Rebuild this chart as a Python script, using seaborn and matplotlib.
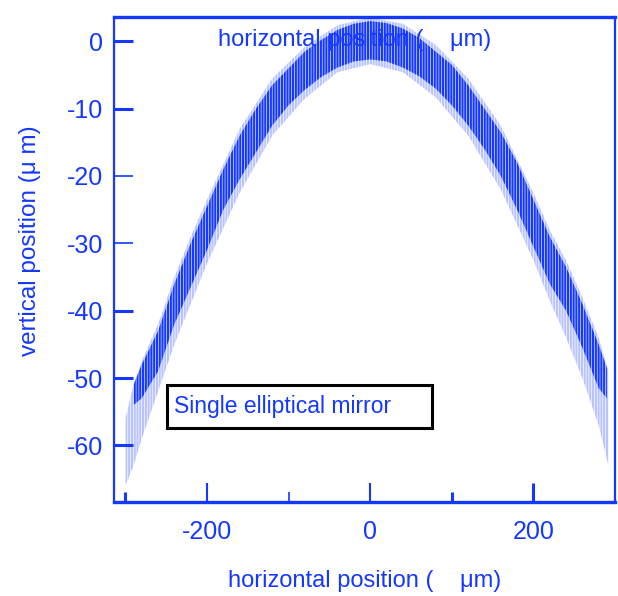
import numpy as np
import pandas as pd
import matplotlib
matplotlib.use("Agg")
import matplotlib.pyplot as plt
from matplotlib.patches import Rectangle
import seaborn as sns

# ---- data (micrometres) ----
band_x = [-290, -280, -260, -240, -220, -200, -180, -160, -140, -120, -100, -80, -60, -40, -20,
          0, 20, 40, 60, 80, 100, 120, 140, 160, 180, 200, 220, 240, 260, 280, 290]
band_top = [-51, -48, -43, -36, -30, -24.5, -19, -14, -10, -6.5, -4, -1.5, 0.2, 1.7, 2.6,
            3.0, 2.7, 1.9, 0.5, -1.5, -3.5, -6.5, -10, -13.5, -18, -23.5, -29, -33.5, -39, -45, -48.5]
band_bottom = [-54, -53, -49, -42, -36.5, -31, -25, -20.5, -16.5, -12.5, -9.5, -7.2, -5.3, -3.9, -3.0,
               -2.7, -3.0, -3.9, -5.2, -7, -9.5, -12.5, -16, -20, -25, -30.5, -36, -40, -45.5, -51.5, -53]

fringe_x = [-300, -290, -280, -260, -240, -220, -200, -160, -120, -80, -40, 0,
            40, 80, 120, 160, 200, 220, 240, 260, 280, 292]
fringe_top = [-56, -51, -47.5, -42, -35, -29, -23.5, -13, -5.5, -0.8, 2.4, 3.5,
              2.6, -0.5, -5.5, -12.5, -22.5, -28, -32.5, -38, -44, -49]
fringe_bottom = [-66, -63, -59, -52, -45, -39, -33, -22.5, -14, -8.5, -4.6, -3.4,
                 -4.6, -8.3, -14, -22, -32.5, -38.5, -44, -50, -57, -63]

xticks_major = [-200, 0, 200]
xticks_minor = [-300, -100, 100, 300]
yticks = [0, -10, -20, -30, -40, -50, -60]

label_text = "Single elliptical mirror"
xlabel_text = "horizontal position (    \u03bcm)"
ylabel_text = "vertical position (\u03bc m)"

BLUE = "#1438ff"

sns.set_style("white")
plt.rcParams["font.family"] = ["Liberation Sans", "DejaVu Sans"]
plt.rcParams["hatch.linewidth"] = 1.5
plt.rcParams["hatch.color"] = BLUE

band = pd.DataFrame({"x": band_x, "top": band_top, "bottom": band_bottom})
fringe = pd.DataFrame({"x": fringe_x, "top": fringe_top, "bottom": fringe_bottom})

fig = plt.figure(figsize=(6.18, 5.96), dpi=100)
ax = fig.add_axes([114 / 618, 1 - 502 / 596, 501 / 618, 485 / 596])

# text inside the plot area (under the data)
ax.text(0.481, 0.953, xlabel_text, transform=ax.transAxes, ha="center", va="center",
        fontsize=17, color=BLUE, zorder=1)

ax.fill_between(fringe["x"], fringe["bottom"], fringe["top"], facecolor="none",
                edgecolor=BLUE, linewidth=0, hatch="||||||", alpha=0.3, zorder=2)
ax.fill_between(band["x"], band["bottom"], band["top"], facecolor="none",
                edgecolor=BLUE, linewidth=0, hatch="||||||", zorder=3)

ax.set_xlim(-314, 299)
ax.set_ylim(-68.4, 3.6)

ax.set_xticks(xticks_major)
ax.set_xticks(xticks_minor, minor=True)
ax.set_yticks(yticks)
ax.set_xticklabels([str(v) for v in xticks_major])
ax.set_yticklabels([str(v) for v in yticks])

ax.tick_params(axis="x", which="major", direction="in", length=14, width=1.5, bottom=True,
               top=False, color=BLUE, labelcolor=BLUE, labelsize=18, pad=13)
ax.tick_params(axis="x", which="minor", direction="in", length=7, width=1.5, bottom=True,
               top=False, color=BLUE)
ax.tick_params(axis="y", which="major", direction="in", length=14, width=2.2, left=True,
               right=False, color=BLUE, labelcolor=BLUE, labelsize=18, pad=8)

for tick, w in zip(ax.xaxis.get_major_ticks(), [1.5, 1.5, 2.2]):
    tick.tick1line.set_markeredgewidth(w)
for tick, w in zip(ax.xaxis.get_minor_ticks(), [2.2, 1.2, 2.2, 1.2]):
    tick.tick1line.set_markeredgewidth(w)
for tick, w in zip(ax.yaxis.get_major_ticks(), [2.2, 2.2, 1.2, 1.2, 2.2, 2.2, 2.2]):
    tick.tick1line.set_markeredgewidth(w)

for name, sp in ax.spines.items():
    sp.set_color(BLUE)
    sp.set_visible(True)
ax.spines["top"].set_linewidth(2.4)
ax.spines["bottom"].set_linewidth(2.4)
ax.spines["left"].set_linewidth(1.6)
ax.spines["right"].set_linewidth(1.6)

ax.set_xlabel(xlabel_text, fontsize=17, color=BLUE, labelpad=19)
ax.set_ylabel(ylabel_text, fontsize=17.5, color=BLUE)
ax.yaxis.set_label_coords(-0.146, 0.538)

# label box
ax.add_patch(Rectangle((0.1058, 0.1526), 0.529, 0.0887, transform=ax.transAxes,
                       facecolor="white", edgecolor="black", linewidth=2.2, zorder=5))
ax.text(0.12, 0.196, label_text, transform=ax.transAxes, ha="left", va="center",
        fontsize=16.5, color=BLUE, zorder=6)

fig.savefig("out.png", dpi=100)
